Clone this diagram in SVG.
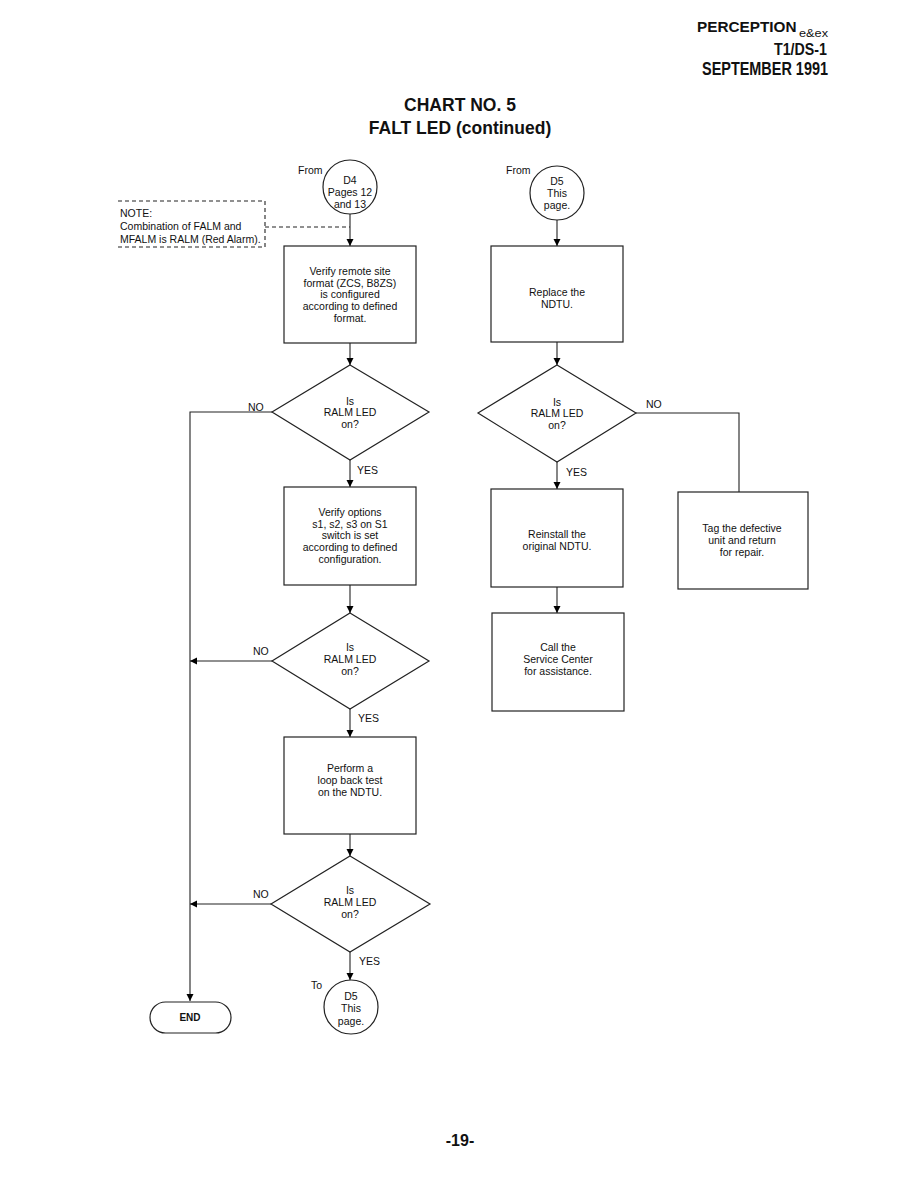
<svg xmlns="http://www.w3.org/2000/svg" width="923" height="1196" viewBox="0 0 923 1196">
<defs>
<marker id="ah" markerUnits="userSpaceOnUse" markerWidth="7" markerHeight="10" viewBox="0 0 7 10" refX="7" refY="5" orient="auto"><path d="M0,1.5 L7,5 L0,8.5 z" fill="#000"/></marker>
<style>
text{font-family:"Liberation Sans",Arial,sans-serif;fill:#111}
.t{font-size:10.5px;text-anchor:middle}
.l{font-size:10.5px}
.box{fill:#fff;stroke:#222;stroke-width:1.2}
.c{fill:none;stroke:#222;stroke-width:1.1}
.a{marker-end:url(#ah)}
.d{fill:none;stroke:#222;stroke-width:1.1;stroke-dasharray:4 3}
.h{font-weight:bold;font-size:17.5px}
</style>
</defs>
<rect width="923" height="1196" fill="#fff"/>
<g id="header">
<text x="697" y="32" style="font-weight:bold;font-size:15.3px">PERCEPTION</text>
<text x="799" y="37" style="font-size:11px" textLength="29" lengthAdjust="spacingAndGlyphs">e&amp;ex</text>
<text x="774" y="55" class="h" style="font-size:16.5px" textLength="53" lengthAdjust="spacingAndGlyphs">T1/DS-1</text>
<text x="702" y="75" class="h" textLength="126" lengthAdjust="spacingAndGlyphs">SEPTEMBER 1991</text>
</g>
<g id="title">
<text x="460" y="111" style="font-size:17.5px;font-weight:bold;text-anchor:middle">CHART NO. 5</text>
<text x="460" y="134" style="font-size:17.5px;font-weight:bold;text-anchor:middle">FALT LED (continued)</text>
</g>
<g id="connectors">
<line class="c a" x1="350" y1="214" x2="350" y2="246"/>
<path class="d" d="M265,227 H350"/>
<line class="c a" x1="350" y1="343" x2="350" y2="365"/>
<line class="c a" x1="350" y1="460" x2="350" y2="487"/>
<path class="c a" d="M272,412 H190 V1001"/>
<line class="c a" x1="350" y1="585" x2="350" y2="613"/>
<line class="c a" x1="272" y1="661" x2="190" y2="661"/>
<line class="c a" x1="350" y1="709" x2="350" y2="737"/>
<line class="c a" x1="350" y1="834" x2="350" y2="856"/>
<line class="c a" x1="271" y1="904" x2="190" y2="904"/>
<line class="c a" x1="350" y1="952" x2="350" y2="980"/>
<line class="c a" x1="557" y1="219" x2="557" y2="246"/>
<line class="c a" x1="557" y1="342" x2="557" y2="365"/>
<line class="c a" x1="557" y1="462" x2="557" y2="489"/>
<path class="c" d="M636,413 H739 V492"/>
<line class="c a" x1="557" y1="587" x2="557" y2="613"/>
</g>
<g id="labels">
<text class="l" x="248" y="411">NO</text>
<text class="l" x="357" y="474">YES</text>
<text class="l" x="253" y="655">NO</text>
<text class="l" x="358" y="722">YES</text>
<text class="l" x="253" y="898">NO</text>
<text class="l" x="359" y="965">YES</text>
<text class="l" x="646" y="408">NO</text>
<text class="l" x="566" y="476">YES</text>
</g>
<g id="note">
<path class="d" d="M118,201 H265 V247 H118"/>
<text class="l" x="120" y="217">NOTE:</text>
<text class="l" x="120" y="230">Combination of FALM and</text>
<text class="l" x="120" y="243">MFALM is RALM (Red Alarm).</text>
</g>
<g id="from-d4">
<text class="l" x="298" y="174">From</text>
<circle class="box" cx="350" cy="187" r="27"/>
<text class="t" x="350" y="184">D4</text>
<text class="t" x="350" y="196">Pages 12</text>
<text class="t" x="350" y="208">and 13</text>
</g>
<g id="box1">
<rect class="box" x="284" y="246" width="132" height="97"/>
<text class="t" x="350" y="275">Verify remote site</text>
<text class="t" x="350" y="287">format (ZCS, B8ZS)</text>
<text class="t" x="350" y="298">is configured</text>
<text class="t" x="350" y="310">according to defined</text>
<text class="t" x="350" y="322">format.</text>
</g>
<g id="dec1">
<polygon class="box" points="350,365 429,412 350,460 272,412"/>
<text class="t" x="350" y="405">Is</text>
<text class="t" x="350" y="416">RALM LED</text>
<text class="t" x="350" y="428">on?</text>
</g>
<g id="box2">
<rect class="box" x="284" y="487" width="132" height="98"/>
<text class="t" x="350" y="516">Verify options</text>
<text class="t" x="350" y="528">s1, s2, s3 on S1</text>
<text class="t" x="350" y="539">switch is set</text>
<text class="t" x="350" y="551">according to defined</text>
<text class="t" x="350" y="563">configuration.</text>
</g>
<g id="dec2">
<polygon class="box" points="350,613 429,661 350,709 272,661"/>
<text class="t" x="350" y="651">Is</text>
<text class="t" x="350" y="663">RALM LED</text>
<text class="t" x="350" y="675">on?</text>
</g>
<g id="box3">
<rect class="box" x="284" y="737" width="132" height="97"/>
<text class="t" x="350" y="772">Perform a</text>
<text class="t" x="350" y="784">loop back test</text>
<text class="t" x="350" y="796">on the NDTU.</text>
</g>
<g id="dec3">
<polygon class="box" points="350,856 430,904 350,952 271,904"/>
<text class="t" x="350" y="894">Is</text>
<text class="t" x="350" y="906">RALM LED</text>
<text class="t" x="350" y="918">on?</text>
</g>
<g id="to-d5">
<text class="l" x="311" y="989">To</text>
<circle class="box" cx="351" cy="1007" r="27"/>
<text class="t" x="351" y="1000">D5</text>
<text class="t" x="351" y="1012">This</text>
<text class="t" x="351" y="1025">page.</text>
</g>
<g id="end">
<rect class="box" x="150" y="1002" width="81" height="31" rx="15.5"/>
<text x="190" y="1021" style="font-size:10px;font-weight:bold;text-anchor:middle">END</text>
</g>
<g id="from-d5">
<text class="l" x="506" y="174">From</text>
<circle class="box" cx="557" cy="193" r="27"/>
<text class="t" x="557" y="185">D5</text>
<text class="t" x="557" y="197">This</text>
<text class="t" x="557" y="209">page.</text>
</g>
<g id="boxR1">
<rect class="box" x="491" y="246" width="132" height="96"/>
<text class="t" x="557" y="296">Replace the</text>
<text class="t" x="557" y="308">NDTU.</text>
</g>
<g id="decR">
<polygon class="box" points="557,365 636,413 557,462 478,413"/>
<text class="t" x="557" y="406">Is</text>
<text class="t" x="557" y="417">RALM LED</text>
<text class="t" x="557" y="429">on?</text>
</g>
<g id="boxR2">
<rect class="box" x="491" y="489" width="132" height="98"/>
<text class="t" x="557" y="538">Reinstall the</text>
<text class="t" x="557" y="550">original NDTU.</text>
</g>
<g id="boxR3">
<rect class="box" x="492" y="613" width="132" height="98"/>
<text class="t" x="558" y="651">Call the</text>
<text class="t" x="558" y="663">Service Center</text>
<text class="t" x="558" y="675">for assistance.</text>
</g>
<g id="boxTag">
<rect class="box" x="678" y="492" width="130" height="97"/>
<text class="t" x="742" y="532">Tag the defective</text>
<text class="t" x="742" y="544">unit and return</text>
<text class="t" x="742" y="556">for repair.</text>
</g>
<g id="page">
<text x="460" y="1146" style="font-size:16px;font-weight:bold;text-anchor:middle">-19-</text>
</g>
</svg>
